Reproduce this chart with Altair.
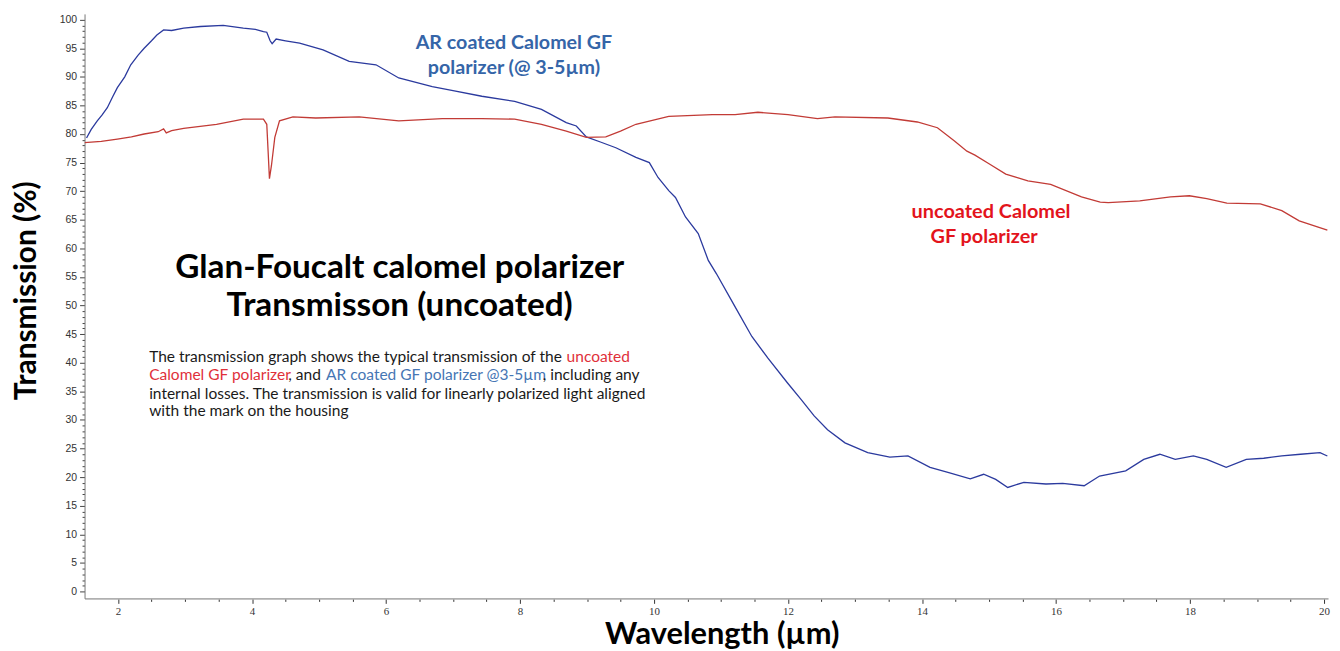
import altair as alt
import pandas as pd

# ---- data ----
blue_wl = [1.53, 1.60, 1.69, 1.76, 1.84, 1.92, 1.99, 2.10, 2.19, 2.30, 2.39, 2.50, 2.58, 2.68,
           2.80, 2.98, 3.23, 3.57, 3.87, 4.05, 4.17, 4.22, 4.27, 4.30, 4.36, 4.50, 4.71, 5.06,
           5.45, 5.85, 6.19, 6.69, 7.00, 7.43, 7.92, 8.32, 8.69, 8.84, 8.99, 9.20, 9.43, 9.73,
           9.93, 10.06, 10.22, 10.32, 10.47, 10.66, 10.81, 10.93, 11.20, 11.46, 11.70, 11.99,
           12.20, 12.39, 12.59, 12.85, 13.19, 13.52, 13.79, 14.12, 14.40, 14.72, 14.92, 15.10,
           15.28, 15.52, 15.85, 16.10, 16.42, 16.65, 17.04, 17.31, 17.55, 17.78, 18.05, 18.25,
           18.54, 18.84, 19.10, 19.37, 19.65, 19.94, 20.05]
blue_t = [79.3, 80.8, 82.3, 83.3, 84.6, 86.5, 88.1, 90.0, 92.1, 93.8, 95.0, 96.3, 97.3, 98.2,
          98.1, 98.5, 98.8, 99.0, 98.5, 98.3, 97.9, 97.8, 96.3, 95.8, 96.6, 96.3, 95.9, 94.7,
          92.7, 92.1, 89.8, 88.3, 87.6, 86.6, 85.7, 84.3, 82.0, 81.4, 79.5, 78.6, 77.6, 75.9,
          75.0, 72.4, 70.1, 68.9, 65.5, 62.6, 57.9, 55.6, 50.0, 44.6, 40.8, 36.5,
          33.5, 30.7, 28.3, 26.0, 24.3, 23.5, 23.7, 21.7, 20.8, 19.7, 20.5, 19.6,
          18.2, 19.1, 18.8, 18.9, 18.5, 20.2, 21.1, 23.1, 24.0, 23.1, 23.7, 23.1,
          21.7, 23.1, 23.3, 23.7, 24.0, 24.3, 23.7]

red_wl = [1.50, 1.75, 1.99, 2.20, 2.39, 2.60, 2.68, 2.72, 2.80, 2.98, 3.47, 3.87, 4.17, 4.22,
          4.24, 4.26, 4.29, 4.34, 4.41, 4.61, 4.95, 5.60, 6.19, 6.84, 7.43, 7.92, 8.32, 8.69,
          8.99, 9.28, 9.50, 9.73, 10.22, 10.87, 11.21, 11.55, 12.00, 12.44, 12.70, 13.49,
          13.93, 14.23, 14.48, 14.67, 14.79, 15.00, 15.25, 15.41, 15.58, 15.92, 16.38, 16.66,
          16.78, 17.25, 17.71, 17.99, 18.25, 18.55, 19.05, 19.37, 19.63, 19.97, 20.05]
red_t = [78.5, 78.7, 79.1, 79.5, 80.0, 80.4, 80.9, 80.2, 80.6, 81.0, 81.7, 82.6, 82.6, 81.7,
         77.0, 72.2, 74.5, 79.4, 82.3, 83.0, 82.8, 83.0, 82.3, 82.7, 82.7, 82.6, 81.7, 80.5,
         79.4, 79.5, 80.5, 81.7, 83.1, 83.4, 83.4, 83.8, 83.4, 82.7, 83.0, 82.8,
         82.1, 81.1, 78.8, 77.0, 76.3, 74.8, 73.0, 72.4, 71.8, 71.2, 69.0, 68.1,
         68.0, 68.3, 69.0, 69.2, 68.7, 67.9, 67.8, 66.6, 64.8, 63.5, 63.2]

series_names = ["AR coated Calomel GF polarizer (@ 3-5µm)", "uncoated Calomel GF polarizer"]
x_ticks = [2 + 0.5 * i for i in range(37)]
y_ticks = list(range(0, 101))

df = pd.concat([
    pd.DataFrame({"wl": blue_wl, "T": blue_t, "s": series_names[0]}),
    pd.DataFrame({"wl": red_wl, "T": red_t, "s": series_names[1]}),
])

x_axis = alt.Axis(
    values=x_ticks,
    labelExpr="datum.value % 2 === 0 ? format(datum.value, 'd') : ''",
    tickSize={"condition": {"test": "datum.value % 2 === 0", "value": 5}, "value": 3},
    tickColor="#333", tickWidth=1,
    domainColor="#b0b0b0", domainWidth=2,
    labelFont="Liberation Sans Narrow", labelFontSize=11, labelColor="#333",
    labelPadding=2, labelOverlap=False,
    grid=False,
    title="Wavelength (µm)", titleFont="Lato", titleFontSize=31, titleFontWeight="bold",
    titleColor="#000", titleX=641, titleY=36, titleBaseline="middle", titleAlign="center",
)
y_axis = alt.Axis(
    values=y_ticks,
    labelExpr="datum.value % 5 === 0 ? datum.label : ''",
    tickSize={"condition": {"test": "datum.value % 5 === 0", "value": 5}, "value": 2.5},
    tickColor="#444", tickWidth=1,
    domainColor="#777", domainWidth=1,
    labelFont="Liberation Sans", labelFontSize=10.5, labelColor="#333",
    labelPadding=3, labelOverlap=False,
    grid=False,
    title="Transmission (%)", titleFont="Lato", titleFontSize=30, titleFontWeight="bold",
    titleColor="#000", titleX=-58, titleY=278, titleAngle=270,
    titleBaseline="middle", titleAlign="center",
)

lines = alt.Chart(df).mark_line(strokeWidth=1.3, clip=True).encode(
    x=alt.X("wl:Q", scale=alt.Scale(domain=[1.5, 20.06], nice=False, zero=False), axis=x_axis),
    y=alt.Y("T:Q", scale=alt.Scale(domain=[-1.2, 101], nice=False, zero=False), axis=y_axis),
    color=alt.Color("s:N", scale=alt.Scale(domain=series_names, range=["#2b3a9e", "#c23b36"]),
                    legend=None),
)


def txt(s, x, y, size, color, weight="normal", align="center", font="Lato"):
    return alt.Chart(pd.DataFrame({"t": [s]})).mark_text(
        align=align, baseline="middle", fontSize=size, fontWeight=weight, color=color, font=font
    ).encode(x=alt.value(x), y=alt.value(y), text="t:N")


BLUE_T = "#3565a8"
RED_T = "#e3141c"
PAR_RED = "#e0303a"
PAR_BLUE = "#4676b4"
BLK = "#1a1a1a"
PS = 15.6

texts = [
    txt("AR coated Calomel GF", 432, 29, 19.8, BLUE_T, "bold"),
    txt("polarizer (@ 3-5µm)", 432, 54, 19.8, BLUE_T, "bold"),
    txt("uncoated Calomel", 912, 199, 20, RED_T, "bold"),
    txt("GF polarizer", 905, 224, 20, RED_T, "bold"),
    txt("Glan-Foucalt calomel polarizer", 317, 256, 33.5, "#000", "bold"),
    txt("Transmisson (uncoated)", 317, 294, 33.5, "#000", "bold"),
    txt("The transmission graph shows the typical transmission of the", 65, 345, PS, BLK, align="left"),
    txt("uncoated", 485, 345, PS, PAR_RED, align="left"),
    txt("Calomel GF polarizer", 65, 363, PS, PAR_RED, align="left"),
    txt(", and", 205, 363, PS, BLK, align="left"),
    txt("AR coated GF polarizer @3-5µm", 243, 363, PS, PAR_BLUE, align="left"),
    txt(", including any", 461, 363, PS, BLK, align="left"),
    txt("internal losses. The transmission is valid for linearly polarized light aligned", 65, 382, PS, BLK, align="left"),
    txt("with the mark on the housing", 65, 400, PS, BLK, align="left"),
]

chart = alt.layer(lines, *texts).properties(
    width=1251, height=588,
    autosize=alt.AutoSizeParams(type="none"),
    padding={"left": 77, "top": 4, "right": 4, "bottom": 51},
).configure_view(stroke=None)

chart.save("out.html", embed_options={"renderer": "svg", "actions": False})
